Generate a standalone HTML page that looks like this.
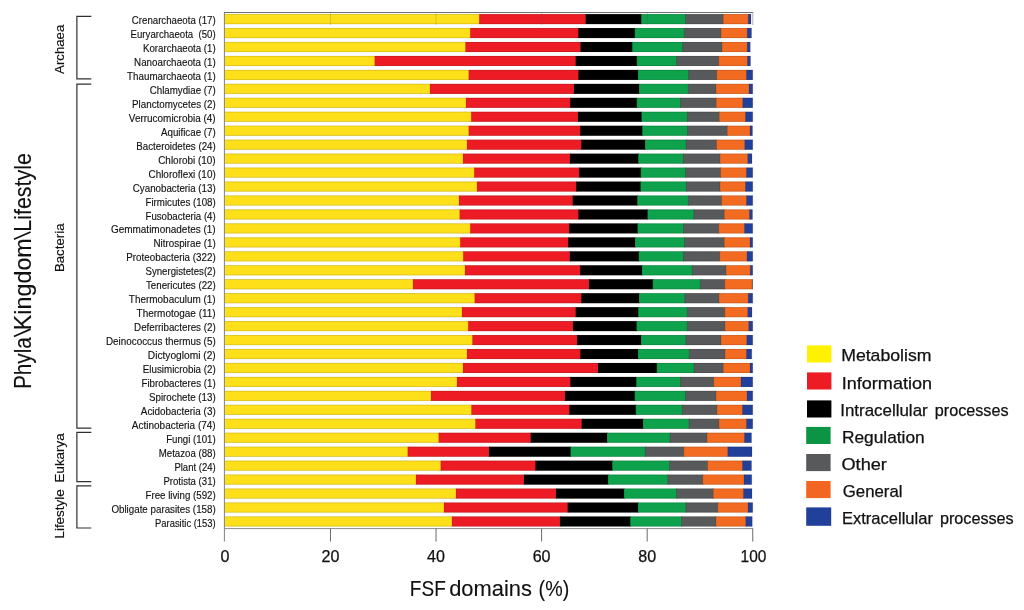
<!DOCTYPE html>
<html><head><meta charset="utf-8"><title>FSF domains</title>
<style>
html,body{margin:0;padding:0;background:#fff;}
body{width:1024px;height:610px;overflow:hidden;font-family:"Liberation Sans",sans-serif;}
svg{will-change:transform;display:block;position:absolute;left:0;top:0;}
text{font-family:"Liberation Sans",sans-serif;fill:#111;stroke:#111;stroke-width:0.25px;}
.rl{stroke-width:0.14px;}
.gl{stroke-width:0.15px;}
.big{stroke-width:0.12px;}
</style></head><body>
<svg width="1024" height="610" viewBox="0 0 1024 610">
<rect x="0" y="0" width="1024" height="610" fill="#ffffff"/>

<g>
<rect x="224.90" y="14.10" width="255.05" height="10.0" fill="#FEE01A"/>
<rect x="479.25" y="14.10" width="107.20" height="10.0" fill="#ED1C24"/>
<rect x="585.75" y="14.10" width="56.20" height="10.0" fill="#000000"/>
<rect x="641.25" y="14.10" width="44.95" height="10.0" fill="#0DA24B"/>
<rect x="685.50" y="14.10" width="38.45" height="10.0" fill="#58595B"/>
<rect x="723.25" y="14.10" width="25.70" height="10.0" fill="#F36B21"/>
<rect x="748.25" y="14.10" width="2.75" height="10.0" fill="#21409A"/>
<path d="M224.90 14.40H751.00M224.90 23.80H751.00M479.25 14.10v10.0M585.75 14.10v10.0M641.25 14.10v10.0M685.50 14.10v10.0M723.25 14.10v10.0M748.25 14.10v10.0M751.00 14.10v10.0" fill="none" stroke="#000" stroke-opacity="0.22" stroke-width="0.6"/>
<rect x="224.90" y="28.05" width="246.05" height="10.0" fill="#FEE01A"/>
<rect x="470.25" y="28.05" width="108.85" height="10.0" fill="#ED1C24"/>
<rect x="578.40" y="28.05" width="57.05" height="10.0" fill="#000000"/>
<rect x="634.75" y="28.05" width="50.20" height="10.0" fill="#0DA24B"/>
<rect x="684.25" y="28.05" width="37.45" height="10.0" fill="#58595B"/>
<rect x="721.00" y="28.05" width="26.95" height="10.0" fill="#F36B21"/>
<rect x="747.25" y="28.05" width="4.25" height="10.0" fill="#21409A"/>
<path d="M224.90 28.36H751.50M224.90 37.76H751.50M470.25 28.05v10.0M578.40 28.05v10.0M634.75 28.05v10.0M684.25 28.05v10.0M721.00 28.05v10.0M747.25 28.05v10.0M751.50 28.05v10.0" fill="none" stroke="#000" stroke-opacity="0.22" stroke-width="0.6"/>
<rect x="224.90" y="42.01" width="241.30" height="10.0" fill="#FEE01A"/>
<rect x="465.50" y="42.01" width="115.80" height="10.0" fill="#ED1C24"/>
<rect x="580.60" y="42.01" width="52.35" height="10.0" fill="#000000"/>
<rect x="632.25" y="42.01" width="50.95" height="10.0" fill="#0DA24B"/>
<rect x="682.50" y="42.01" width="40.20" height="10.0" fill="#58595B"/>
<rect x="722.00" y="42.01" width="25.95" height="10.0" fill="#F36B21"/>
<rect x="747.25" y="42.01" width="3.00" height="10.0" fill="#21409A"/>
<path d="M224.90 42.31H750.25M224.90 51.71H750.25M465.50 42.01v10.0M580.60 42.01v10.0M632.25 42.01v10.0M682.50 42.01v10.0M722.00 42.01v10.0M747.25 42.01v10.0M750.25 42.01v10.0" fill="none" stroke="#000" stroke-opacity="0.22" stroke-width="0.6"/>
<rect x="224.90" y="55.97" width="150.55" height="10.0" fill="#FEE01A"/>
<rect x="374.75" y="55.97" width="201.70" height="10.0" fill="#ED1C24"/>
<rect x="575.75" y="55.97" width="61.70" height="10.0" fill="#000000"/>
<rect x="636.75" y="55.97" width="40.45" height="10.0" fill="#0DA24B"/>
<rect x="676.50" y="55.97" width="42.95" height="10.0" fill="#58595B"/>
<rect x="718.75" y="55.97" width="29.45" height="10.0" fill="#F36B21"/>
<rect x="747.50" y="55.97" width="3.00" height="10.0" fill="#21409A"/>
<path d="M224.90 56.27H750.50M224.90 65.67H750.50M374.75 55.97v10.0M575.75 55.97v10.0M636.75 55.97v10.0M676.50 55.97v10.0M718.75 55.97v10.0M747.50 55.97v10.0M750.50 55.97v10.0" fill="none" stroke="#000" stroke-opacity="0.22" stroke-width="0.6"/>
<rect x="224.90" y="69.92" width="244.55" height="10.0" fill="#FEE01A"/>
<rect x="468.75" y="69.92" width="110.45" height="10.0" fill="#ED1C24"/>
<rect x="578.50" y="69.92" width="60.20" height="10.0" fill="#000000"/>
<rect x="638.00" y="69.92" width="51.20" height="10.0" fill="#0DA24B"/>
<rect x="688.50" y="69.92" width="28.95" height="10.0" fill="#58595B"/>
<rect x="716.75" y="69.92" width="30.45" height="10.0" fill="#F36B21"/>
<rect x="746.50" y="69.92" width="6.25" height="10.0" fill="#21409A"/>
<path d="M224.90 70.22H752.75M224.90 79.62H752.75M468.75 69.92v10.0M578.50 69.92v10.0M638.00 69.92v10.0M688.50 69.92v10.0M716.75 69.92v10.0M746.50 69.92v10.0M752.75 69.92v10.0" fill="none" stroke="#000" stroke-opacity="0.22" stroke-width="0.6"/>
<rect x="224.90" y="83.88" width="205.80" height="10.0" fill="#FEE01A"/>
<rect x="430.00" y="83.88" width="144.70" height="10.0" fill="#ED1C24"/>
<rect x="574.00" y="83.88" width="65.70" height="10.0" fill="#000000"/>
<rect x="639.00" y="83.88" width="49.95" height="10.0" fill="#0DA24B"/>
<rect x="688.25" y="83.88" width="28.45" height="10.0" fill="#58595B"/>
<rect x="716.00" y="83.88" width="33.70" height="10.0" fill="#F36B21"/>
<rect x="749.00" y="83.88" width="3.75" height="10.0" fill="#21409A"/>
<path d="M224.90 84.17H752.75M224.90 93.58H752.75M430.00 83.88v10.0M574.00 83.88v10.0M639.00 83.88v10.0M688.25 83.88v10.0M716.00 83.88v10.0M749.00 83.88v10.0M752.75 83.88v10.0" fill="none" stroke="#000" stroke-opacity="0.22" stroke-width="0.6"/>
<rect x="224.90" y="97.83" width="241.80" height="10.0" fill="#FEE01A"/>
<rect x="466.00" y="97.83" width="104.95" height="10.0" fill="#ED1C24"/>
<rect x="570.25" y="97.83" width="67.20" height="10.0" fill="#000000"/>
<rect x="636.75" y="97.83" width="44.45" height="10.0" fill="#0DA24B"/>
<rect x="680.50" y="97.83" width="36.45" height="10.0" fill="#58595B"/>
<rect x="716.25" y="97.83" width="27.20" height="10.0" fill="#F36B21"/>
<rect x="742.75" y="97.83" width="10.00" height="10.0" fill="#21409A"/>
<path d="M224.90 98.13H752.75M224.90 107.53H752.75M466.00 97.83v10.0M570.25 97.83v10.0M636.75 97.83v10.0M680.50 97.83v10.0M716.25 97.83v10.0M742.75 97.83v10.0M752.75 97.83v10.0" fill="none" stroke="#000" stroke-opacity="0.22" stroke-width="0.6"/>
<rect x="224.90" y="111.78" width="247.05" height="10.0" fill="#FEE01A"/>
<rect x="471.25" y="111.78" width="107.45" height="10.0" fill="#ED1C24"/>
<rect x="578.00" y="111.78" width="64.20" height="10.0" fill="#000000"/>
<rect x="641.50" y="111.78" width="46.45" height="10.0" fill="#0DA24B"/>
<rect x="687.25" y="111.78" width="32.70" height="10.0" fill="#58595B"/>
<rect x="719.25" y="111.78" width="26.95" height="10.0" fill="#F36B21"/>
<rect x="745.50" y="111.78" width="7.25" height="10.0" fill="#21409A"/>
<path d="M224.90 112.08H752.75M224.90 121.48H752.75M471.25 111.78v10.0M578.00 111.78v10.0M641.50 111.78v10.0M687.25 111.78v10.0M719.25 111.78v10.0M745.50 111.78v10.0M752.75 111.78v10.0" fill="none" stroke="#000" stroke-opacity="0.22" stroke-width="0.6"/>
<rect x="224.90" y="125.74" width="244.55" height="10.0" fill="#FEE01A"/>
<rect x="468.75" y="125.74" width="112.20" height="10.0" fill="#ED1C24"/>
<rect x="580.25" y="125.74" width="62.70" height="10.0" fill="#000000"/>
<rect x="642.25" y="125.74" width="45.95" height="10.0" fill="#0DA24B"/>
<rect x="687.50" y="125.74" width="40.45" height="10.0" fill="#58595B"/>
<rect x="727.25" y="125.74" width="23.45" height="10.0" fill="#F36B21"/>
<rect x="750.00" y="125.74" width="2.50" height="10.0" fill="#21409A"/>
<path d="M224.90 126.04H752.50M224.90 135.44H752.50M468.75 125.74v10.0M580.25 125.74v10.0M642.25 125.74v10.0M687.50 125.74v10.0M727.25 125.74v10.0M750.00 125.74v10.0M752.50 125.74v10.0" fill="none" stroke="#000" stroke-opacity="0.22" stroke-width="0.6"/>
<rect x="224.90" y="139.69" width="242.80" height="10.0" fill="#FEE01A"/>
<rect x="467.00" y="139.69" width="115.10" height="10.0" fill="#ED1C24"/>
<rect x="581.40" y="139.69" width="64.30" height="10.0" fill="#000000"/>
<rect x="645.00" y="139.69" width="41.70" height="10.0" fill="#0DA24B"/>
<rect x="686.00" y="139.69" width="31.20" height="10.0" fill="#58595B"/>
<rect x="716.50" y="139.69" width="28.95" height="10.0" fill="#F36B21"/>
<rect x="744.75" y="139.69" width="8.00" height="10.0" fill="#21409A"/>
<path d="M224.90 140.00H752.75M224.90 149.39H752.75M467.00 139.69v10.0M581.40 139.69v10.0M645.00 139.69v10.0M686.00 139.69v10.0M716.50 139.69v10.0M744.75 139.69v10.0M752.75 139.69v10.0" fill="none" stroke="#000" stroke-opacity="0.22" stroke-width="0.6"/>
<rect x="224.90" y="153.65" width="238.80" height="10.0" fill="#FEE01A"/>
<rect x="463.00" y="153.65" width="107.70" height="10.0" fill="#ED1C24"/>
<rect x="570.00" y="153.65" width="68.95" height="10.0" fill="#000000"/>
<rect x="638.25" y="153.65" width="45.70" height="10.0" fill="#0DA24B"/>
<rect x="683.25" y="153.65" width="37.45" height="10.0" fill="#58595B"/>
<rect x="720.00" y="153.65" width="28.45" height="10.0" fill="#F36B21"/>
<rect x="747.75" y="153.65" width="4.25" height="10.0" fill="#21409A"/>
<path d="M224.90 153.95H752.00M224.90 163.35H752.00M463.00 153.65v10.0M570.00 153.65v10.0M638.25 153.65v10.0M683.25 153.65v10.0M720.00 153.65v10.0M747.75 153.65v10.0M752.00 153.65v10.0" fill="none" stroke="#000" stroke-opacity="0.22" stroke-width="0.6"/>
<rect x="224.90" y="167.60" width="250.05" height="10.0" fill="#FEE01A"/>
<rect x="474.25" y="167.60" width="105.70" height="10.0" fill="#ED1C24"/>
<rect x="579.25" y="167.60" width="62.20" height="10.0" fill="#000000"/>
<rect x="640.75" y="167.60" width="45.45" height="10.0" fill="#0DA24B"/>
<rect x="685.50" y="167.60" width="35.70" height="10.0" fill="#58595B"/>
<rect x="720.50" y="167.60" width="26.70" height="10.0" fill="#F36B21"/>
<rect x="746.50" y="167.60" width="6.25" height="10.0" fill="#21409A"/>
<path d="M224.90 167.91H752.75M224.90 177.30H752.75M474.25 167.60v10.0M579.25 167.60v10.0M640.75 167.60v10.0M685.50 167.60v10.0M720.50 167.60v10.0M746.50 167.60v10.0M752.75 167.60v10.0" fill="none" stroke="#000" stroke-opacity="0.22" stroke-width="0.6"/>
<rect x="224.90" y="181.56" width="252.80" height="10.0" fill="#FEE01A"/>
<rect x="477.00" y="181.56" width="99.95" height="10.0" fill="#ED1C24"/>
<rect x="576.25" y="181.56" width="64.95" height="10.0" fill="#000000"/>
<rect x="640.50" y="181.56" width="46.45" height="10.0" fill="#0DA24B"/>
<rect x="686.25" y="181.56" width="34.45" height="10.0" fill="#58595B"/>
<rect x="720.00" y="181.56" width="26.20" height="10.0" fill="#F36B21"/>
<rect x="745.50" y="181.56" width="7.25" height="10.0" fill="#21409A"/>
<path d="M224.90 181.86H752.75M224.90 191.26H752.75M477.00 181.56v10.0M576.25 181.56v10.0M640.50 181.56v10.0M686.25 181.56v10.0M720.00 181.56v10.0M745.50 181.56v10.0M752.75 181.56v10.0" fill="none" stroke="#000" stroke-opacity="0.22" stroke-width="0.6"/>
<rect x="224.90" y="195.51" width="234.80" height="10.0" fill="#FEE01A"/>
<rect x="459.00" y="195.51" width="114.45" height="10.0" fill="#ED1C24"/>
<rect x="572.75" y="195.51" width="65.20" height="10.0" fill="#000000"/>
<rect x="637.25" y="195.51" width="51.70" height="10.0" fill="#0DA24B"/>
<rect x="688.25" y="195.51" width="33.95" height="10.0" fill="#58595B"/>
<rect x="721.50" y="195.51" width="25.70" height="10.0" fill="#F36B21"/>
<rect x="746.50" y="195.51" width="6.25" height="10.0" fill="#21409A"/>
<path d="M224.90 195.81H752.75M224.90 205.21H752.75M459.00 195.51v10.0M572.75 195.51v10.0M637.25 195.51v10.0M688.25 195.51v10.0M721.50 195.51v10.0M746.50 195.51v10.0M752.75 195.51v10.0" fill="none" stroke="#000" stroke-opacity="0.22" stroke-width="0.6"/>
<rect x="224.90" y="209.47" width="235.55" height="10.0" fill="#FEE01A"/>
<rect x="459.75" y="209.47" width="119.45" height="10.0" fill="#ED1C24"/>
<rect x="578.50" y="209.47" width="69.70" height="10.0" fill="#000000"/>
<rect x="647.50" y="209.47" width="46.95" height="10.0" fill="#0DA24B"/>
<rect x="693.75" y="209.47" width="31.20" height="10.0" fill="#58595B"/>
<rect x="724.25" y="209.47" width="25.95" height="10.0" fill="#F36B21"/>
<rect x="749.50" y="209.47" width="3.00" height="10.0" fill="#21409A"/>
<path d="M224.90 209.77H752.50M224.90 219.17H752.50M459.75 209.47v10.0M578.50 209.47v10.0M647.50 209.47v10.0M693.75 209.47v10.0M724.25 209.47v10.0M749.50 209.47v10.0M752.50 209.47v10.0" fill="none" stroke="#000" stroke-opacity="0.22" stroke-width="0.6"/>
<rect x="224.90" y="223.42" width="246.05" height="10.0" fill="#FEE01A"/>
<rect x="470.25" y="223.42" width="99.70" height="10.0" fill="#ED1C24"/>
<rect x="569.25" y="223.42" width="68.95" height="10.0" fill="#000000"/>
<rect x="637.50" y="223.42" width="46.70" height="10.0" fill="#0DA24B"/>
<rect x="683.50" y="223.42" width="35.95" height="10.0" fill="#58595B"/>
<rect x="718.75" y="223.42" width="26.45" height="10.0" fill="#F36B21"/>
<rect x="744.50" y="223.42" width="8.25" height="10.0" fill="#21409A"/>
<path d="M224.90 223.72H752.75M224.90 233.12H752.75M470.25 223.42v10.0M569.25 223.42v10.0M637.50 223.42v10.0M683.50 223.42v10.0M718.75 223.42v10.0M744.50 223.42v10.0M752.75 223.42v10.0" fill="none" stroke="#000" stroke-opacity="0.22" stroke-width="0.6"/>
<rect x="224.90" y="237.38" width="236.05" height="10.0" fill="#FEE01A"/>
<rect x="460.25" y="237.38" width="108.70" height="10.0" fill="#ED1C24"/>
<rect x="568.25" y="237.38" width="67.45" height="10.0" fill="#000000"/>
<rect x="635.00" y="237.38" width="50.20" height="10.0" fill="#0DA24B"/>
<rect x="684.50" y="237.38" width="40.45" height="10.0" fill="#58595B"/>
<rect x="724.25" y="237.38" width="26.45" height="10.0" fill="#F36B21"/>
<rect x="750.00" y="237.38" width="2.75" height="10.0" fill="#21409A"/>
<path d="M224.90 237.68H752.75M224.90 247.08H752.75M460.25 237.38v10.0M568.25 237.38v10.0M635.00 237.38v10.0M684.50 237.38v10.0M724.25 237.38v10.0M750.00 237.38v10.0M752.75 237.38v10.0" fill="none" stroke="#000" stroke-opacity="0.22" stroke-width="0.6"/>
<rect x="224.90" y="251.34" width="239.05" height="10.0" fill="#FEE01A"/>
<rect x="463.25" y="251.34" width="107.35" height="10.0" fill="#ED1C24"/>
<rect x="569.90" y="251.34" width="69.55" height="10.0" fill="#000000"/>
<rect x="638.75" y="251.34" width="45.45" height="10.0" fill="#0DA24B"/>
<rect x="683.50" y="251.34" width="36.95" height="10.0" fill="#58595B"/>
<rect x="719.75" y="251.34" width="27.95" height="10.0" fill="#F36B21"/>
<rect x="747.00" y="251.34" width="5.75" height="10.0" fill="#21409A"/>
<path d="M224.90 251.64H752.75M224.90 261.04H752.75M463.25 251.34v10.0M569.90 251.34v10.0M638.75 251.34v10.0M683.50 251.34v10.0M719.75 251.34v10.0M747.00 251.34v10.0M752.75 251.34v10.0" fill="none" stroke="#000" stroke-opacity="0.22" stroke-width="0.6"/>
<rect x="224.90" y="265.29" width="240.80" height="10.0" fill="#FEE01A"/>
<rect x="465.00" y="265.29" width="115.95" height="10.0" fill="#ED1C24"/>
<rect x="580.25" y="265.29" width="62.45" height="10.0" fill="#000000"/>
<rect x="642.00" y="265.29" width="50.95" height="10.0" fill="#0DA24B"/>
<rect x="692.25" y="265.29" width="34.45" height="10.0" fill="#58595B"/>
<rect x="726.00" y="265.29" width="24.95" height="10.0" fill="#F36B21"/>
<rect x="750.25" y="265.29" width="2.50" height="10.0" fill="#21409A"/>
<path d="M224.90 265.59H752.75M224.90 274.99H752.75M465.00 265.29v10.0M580.25 265.29v10.0M642.00 265.29v10.0M692.25 265.29v10.0M726.00 265.29v10.0M750.25 265.29v10.0M752.75 265.29v10.0" fill="none" stroke="#000" stroke-opacity="0.22" stroke-width="0.6"/>
<rect x="224.90" y="279.25" width="188.80" height="10.0" fill="#FEE01A"/>
<rect x="413.00" y="279.25" width="176.70" height="10.0" fill="#ED1C24"/>
<rect x="589.00" y="279.25" width="64.45" height="10.0" fill="#000000"/>
<rect x="652.75" y="279.25" width="48.20" height="10.0" fill="#0DA24B"/>
<rect x="700.25" y="279.25" width="25.20" height="10.0" fill="#58595B"/>
<rect x="724.75" y="279.25" width="27.75" height="10.0" fill="#F36B21"/>
<rect x="752.00" y="279.25" width="0.50" height="10.0" fill="#21409A"/>
<path d="M224.90 279.55H752.50M224.90 288.94H752.50M413.00 279.25v10.0M589.00 279.25v10.0M652.75 279.25v10.0M700.25 279.25v10.0M724.75 279.25v10.0M752.00 279.25v10.0M752.50 279.25v10.0" fill="none" stroke="#000" stroke-opacity="0.22" stroke-width="0.6"/>
<rect x="224.90" y="293.20" width="250.55" height="10.0" fill="#FEE01A"/>
<rect x="474.75" y="293.20" width="107.35" height="10.0" fill="#ED1C24"/>
<rect x="581.40" y="293.20" width="58.30" height="10.0" fill="#000000"/>
<rect x="639.00" y="293.20" width="46.45" height="10.0" fill="#0DA24B"/>
<rect x="684.75" y="293.20" width="34.95" height="10.0" fill="#58595B"/>
<rect x="719.00" y="293.20" width="29.95" height="10.0" fill="#F36B21"/>
<rect x="748.25" y="293.20" width="4.50" height="10.0" fill="#21409A"/>
<path d="M224.90 293.50H752.75M224.90 302.90H752.75M474.75 293.20v10.0M581.40 293.20v10.0M639.00 293.20v10.0M684.75 293.20v10.0M719.00 293.20v10.0M748.25 293.20v10.0M752.75 293.20v10.0" fill="none" stroke="#000" stroke-opacity="0.22" stroke-width="0.6"/>
<rect x="224.90" y="307.16" width="237.80" height="10.0" fill="#FEE01A"/>
<rect x="462.00" y="307.16" width="114.45" height="10.0" fill="#ED1C24"/>
<rect x="575.75" y="307.16" width="63.20" height="10.0" fill="#000000"/>
<rect x="638.25" y="307.16" width="49.70" height="10.0" fill="#0DA24B"/>
<rect x="687.25" y="307.16" width="38.20" height="10.0" fill="#58595B"/>
<rect x="724.75" y="307.16" width="23.70" height="10.0" fill="#F36B21"/>
<rect x="747.75" y="307.16" width="4.25" height="10.0" fill="#21409A"/>
<path d="M224.90 307.46H752.00M224.90 316.86H752.00M462.00 307.16v10.0M575.75 307.16v10.0M638.25 307.16v10.0M687.25 307.16v10.0M724.75 307.16v10.0M747.75 307.16v10.0M752.00 307.16v10.0" fill="none" stroke="#000" stroke-opacity="0.22" stroke-width="0.6"/>
<rect x="224.90" y="321.11" width="244.05" height="10.0" fill="#FEE01A"/>
<rect x="468.25" y="321.11" width="105.55" height="10.0" fill="#ED1C24"/>
<rect x="573.10" y="321.11" width="64.10" height="10.0" fill="#000000"/>
<rect x="636.50" y="321.11" width="51.45" height="10.0" fill="#0DA24B"/>
<rect x="687.25" y="321.11" width="38.45" height="10.0" fill="#58595B"/>
<rect x="725.00" y="321.11" width="24.45" height="10.0" fill="#F36B21"/>
<rect x="748.75" y="321.11" width="4.00" height="10.0" fill="#21409A"/>
<path d="M224.90 321.41H752.75M224.90 330.81H752.75M468.25 321.11v10.0M573.10 321.11v10.0M636.50 321.11v10.0M687.25 321.11v10.0M725.00 321.11v10.0M748.75 321.11v10.0M752.75 321.11v10.0" fill="none" stroke="#000" stroke-opacity="0.22" stroke-width="0.6"/>
<rect x="224.90" y="335.06" width="248.30" height="10.0" fill="#FEE01A"/>
<rect x="472.50" y="335.06" width="105.30" height="10.0" fill="#ED1C24"/>
<rect x="577.10" y="335.06" width="64.60" height="10.0" fill="#000000"/>
<rect x="641.00" y="335.06" width="45.45" height="10.0" fill="#0DA24B"/>
<rect x="685.75" y="335.06" width="35.95" height="10.0" fill="#58595B"/>
<rect x="721.00" y="335.06" width="26.45" height="10.0" fill="#F36B21"/>
<rect x="746.75" y="335.06" width="6.00" height="10.0" fill="#21409A"/>
<path d="M224.90 335.37H752.75M224.90 344.76H752.75M472.50 335.06v10.0M577.10 335.06v10.0M641.00 335.06v10.0M685.75 335.06v10.0M721.00 335.06v10.0M746.75 335.06v10.0M752.75 335.06v10.0" fill="none" stroke="#000" stroke-opacity="0.22" stroke-width="0.6"/>
<rect x="224.90" y="349.02" width="242.80" height="10.0" fill="#FEE01A"/>
<rect x="467.00" y="349.02" width="114.10" height="10.0" fill="#ED1C24"/>
<rect x="580.40" y="349.02" width="58.30" height="10.0" fill="#000000"/>
<rect x="638.00" y="349.02" width="51.95" height="10.0" fill="#0DA24B"/>
<rect x="689.25" y="349.02" width="36.45" height="10.0" fill="#58595B"/>
<rect x="725.00" y="349.02" width="22.20" height="10.0" fill="#F36B21"/>
<rect x="746.50" y="349.02" width="5.25" height="10.0" fill="#21409A"/>
<path d="M224.90 349.32H751.75M224.90 358.72H751.75M467.00 349.02v10.0M580.40 349.02v10.0M638.00 349.02v10.0M689.25 349.02v10.0M725.00 349.02v10.0M746.50 349.02v10.0M751.75 349.02v10.0" fill="none" stroke="#000" stroke-opacity="0.22" stroke-width="0.6"/>
<rect x="224.90" y="362.98" width="238.80" height="10.0" fill="#FEE01A"/>
<rect x="463.00" y="362.98" width="135.70" height="10.0" fill="#ED1C24"/>
<rect x="598.00" y="362.98" width="59.45" height="10.0" fill="#000000"/>
<rect x="656.75" y="362.98" width="37.95" height="10.0" fill="#0DA24B"/>
<rect x="694.00" y="362.98" width="29.95" height="10.0" fill="#58595B"/>
<rect x="723.25" y="362.98" width="27.45" height="10.0" fill="#F36B21"/>
<rect x="750.00" y="362.98" width="2.75" height="10.0" fill="#21409A"/>
<path d="M224.90 363.28H752.75M224.90 372.68H752.75M463.00 362.98v10.0M598.00 362.98v10.0M656.75 362.98v10.0M694.00 362.98v10.0M723.25 362.98v10.0M750.00 362.98v10.0M752.75 362.98v10.0" fill="none" stroke="#000" stroke-opacity="0.22" stroke-width="0.6"/>
<rect x="224.90" y="376.93" width="232.80" height="10.0" fill="#FEE01A"/>
<rect x="457.00" y="376.93" width="114.10" height="10.0" fill="#ED1C24"/>
<rect x="570.40" y="376.93" width="66.55" height="10.0" fill="#000000"/>
<rect x="636.25" y="376.93" width="44.95" height="10.0" fill="#0DA24B"/>
<rect x="680.50" y="376.93" width="33.95" height="10.0" fill="#58595B"/>
<rect x="713.75" y="376.93" width="27.95" height="10.0" fill="#F36B21"/>
<rect x="741.00" y="376.93" width="11.75" height="10.0" fill="#21409A"/>
<path d="M224.90 377.23H752.75M224.90 386.63H752.75M457.00 376.93v10.0M570.40 376.93v10.0M636.25 376.93v10.0M680.50 376.93v10.0M713.75 376.93v10.0M741.00 376.93v10.0M752.75 376.93v10.0" fill="none" stroke="#000" stroke-opacity="0.22" stroke-width="0.6"/>
<rect x="224.90" y="390.89" width="206.80" height="10.0" fill="#FEE01A"/>
<rect x="431.00" y="390.89" width="134.70" height="10.0" fill="#ED1C24"/>
<rect x="565.00" y="390.89" width="70.45" height="10.0" fill="#000000"/>
<rect x="634.75" y="390.89" width="51.45" height="10.0" fill="#0DA24B"/>
<rect x="685.50" y="390.89" width="31.20" height="10.0" fill="#58595B"/>
<rect x="716.00" y="390.89" width="31.70" height="10.0" fill="#F36B21"/>
<rect x="747.00" y="390.89" width="5.75" height="10.0" fill="#21409A"/>
<path d="M224.90 391.19H752.75M224.90 400.59H752.75M431.00 390.89v10.0M565.00 390.89v10.0M634.75 390.89v10.0M685.50 390.89v10.0M716.00 390.89v10.0M747.00 390.89v10.0M752.75 390.89v10.0" fill="none" stroke="#000" stroke-opacity="0.22" stroke-width="0.6"/>
<rect x="224.90" y="404.84" width="247.30" height="10.0" fill="#FEE01A"/>
<rect x="471.50" y="404.84" width="98.70" height="10.0" fill="#ED1C24"/>
<rect x="569.50" y="404.84" width="66.95" height="10.0" fill="#000000"/>
<rect x="635.75" y="404.84" width="47.20" height="10.0" fill="#0DA24B"/>
<rect x="682.25" y="404.84" width="35.45" height="10.0" fill="#58595B"/>
<rect x="717.00" y="404.84" width="26.20" height="10.0" fill="#F36B21"/>
<rect x="742.50" y="404.84" width="10.25" height="10.0" fill="#21409A"/>
<path d="M224.90 405.14H752.75M224.90 414.54H752.75M471.50 404.84v10.0M569.50 404.84v10.0M635.75 404.84v10.0M682.25 404.84v10.0M717.00 404.84v10.0M742.50 404.84v10.0M752.75 404.84v10.0" fill="none" stroke="#000" stroke-opacity="0.22" stroke-width="0.6"/>
<rect x="224.90" y="418.80" width="251.30" height="10.0" fill="#FEE01A"/>
<rect x="475.50" y="418.80" width="106.95" height="10.0" fill="#ED1C24"/>
<rect x="581.75" y="418.80" width="61.95" height="10.0" fill="#000000"/>
<rect x="643.00" y="418.80" width="46.70" height="10.0" fill="#0DA24B"/>
<rect x="689.00" y="418.80" width="30.70" height="10.0" fill="#58595B"/>
<rect x="719.00" y="418.80" width="28.20" height="10.0" fill="#F36B21"/>
<rect x="746.50" y="418.80" width="6.25" height="10.0" fill="#21409A"/>
<path d="M224.90 419.10H752.75M224.90 428.50H752.75M475.50 418.80v10.0M581.75 418.80v10.0M643.00 418.80v10.0M689.00 418.80v10.0M719.00 418.80v10.0M746.50 418.80v10.0M752.75 418.80v10.0" fill="none" stroke="#000" stroke-opacity="0.22" stroke-width="0.6"/>
<rect x="224.90" y="432.75" width="214.55" height="10.0" fill="#FEE01A"/>
<rect x="438.75" y="432.75" width="92.70" height="10.0" fill="#ED1C24"/>
<rect x="530.75" y="432.75" width="76.95" height="10.0" fill="#000000"/>
<rect x="607.00" y="432.75" width="63.70" height="10.0" fill="#0DA24B"/>
<rect x="670.00" y="432.75" width="37.70" height="10.0" fill="#58595B"/>
<rect x="707.00" y="432.75" width="38.20" height="10.0" fill="#F36B21"/>
<rect x="744.50" y="432.75" width="7.00" height="10.0" fill="#21409A"/>
<path d="M224.90 433.05H751.50M224.90 442.45H751.50M438.75 432.75v10.0M530.75 432.75v10.0M607.00 432.75v10.0M670.00 432.75v10.0M707.00 432.75v10.0M744.50 432.75v10.0M751.50 432.75v10.0" fill="none" stroke="#000" stroke-opacity="0.22" stroke-width="0.6"/>
<rect x="224.90" y="446.71" width="183.55" height="10.0" fill="#FEE01A"/>
<rect x="407.75" y="446.71" width="81.95" height="10.0" fill="#ED1C24"/>
<rect x="489.00" y="446.71" width="82.20" height="10.0" fill="#000000"/>
<rect x="570.50" y="446.71" width="75.45" height="10.0" fill="#0DA24B"/>
<rect x="645.25" y="446.71" width="39.20" height="10.0" fill="#58595B"/>
<rect x="683.75" y="446.71" width="44.70" height="10.0" fill="#F36B21"/>
<rect x="727.75" y="446.71" width="24.25" height="10.0" fill="#21409A"/>
<path d="M224.90 447.01H752.00M224.90 456.41H752.00M407.75 446.71v10.0M489.00 446.71v10.0M570.50 446.71v10.0M645.25 446.71v10.0M683.75 446.71v10.0M727.75 446.71v10.0M752.00 446.71v10.0" fill="none" stroke="#000" stroke-opacity="0.22" stroke-width="0.6"/>
<rect x="224.90" y="460.66" width="216.55" height="10.0" fill="#FEE01A"/>
<rect x="440.75" y="460.66" width="95.45" height="10.0" fill="#ED1C24"/>
<rect x="535.50" y="460.66" width="77.45" height="10.0" fill="#000000"/>
<rect x="612.25" y="460.66" width="57.95" height="10.0" fill="#0DA24B"/>
<rect x="669.50" y="460.66" width="38.70" height="10.0" fill="#58595B"/>
<rect x="707.50" y="460.66" width="35.70" height="10.0" fill="#F36B21"/>
<rect x="742.50" y="460.66" width="9.00" height="10.0" fill="#21409A"/>
<path d="M224.90 460.96H751.50M224.90 470.36H751.50M440.75 460.66v10.0M535.50 460.66v10.0M612.25 460.66v10.0M669.50 460.66v10.0M707.50 460.66v10.0M742.50 460.66v10.0M751.50 460.66v10.0" fill="none" stroke="#000" stroke-opacity="0.22" stroke-width="0.6"/>
<rect x="224.90" y="474.62" width="191.80" height="10.0" fill="#FEE01A"/>
<rect x="416.00" y="474.62" width="108.70" height="10.0" fill="#ED1C24"/>
<rect x="524.00" y="474.62" width="84.70" height="10.0" fill="#000000"/>
<rect x="608.00" y="474.62" width="60.45" height="10.0" fill="#0DA24B"/>
<rect x="667.75" y="474.62" width="35.70" height="10.0" fill="#58595B"/>
<rect x="702.75" y="474.62" width="41.95" height="10.0" fill="#F36B21"/>
<rect x="744.00" y="474.62" width="7.75" height="10.0" fill="#21409A"/>
<path d="M224.90 474.92H751.75M224.90 484.31H751.75M416.00 474.62v10.0M524.00 474.62v10.0M608.00 474.62v10.0M667.75 474.62v10.0M702.75 474.62v10.0M744.00 474.62v10.0M751.75 474.62v10.0" fill="none" stroke="#000" stroke-opacity="0.22" stroke-width="0.6"/>
<rect x="224.90" y="488.57" width="231.80" height="10.0" fill="#FEE01A"/>
<rect x="456.00" y="488.57" width="100.70" height="10.0" fill="#ED1C24"/>
<rect x="556.00" y="488.57" width="68.70" height="10.0" fill="#000000"/>
<rect x="624.00" y="488.57" width="53.20" height="10.0" fill="#0DA24B"/>
<rect x="676.50" y="488.57" width="37.45" height="10.0" fill="#58595B"/>
<rect x="713.25" y="488.57" width="30.95" height="10.0" fill="#F36B21"/>
<rect x="743.50" y="488.57" width="8.50" height="10.0" fill="#21409A"/>
<path d="M224.90 488.87H752.00M224.90 498.27H752.00M456.00 488.57v10.0M556.00 488.57v10.0M624.00 488.57v10.0M676.50 488.57v10.0M713.25 488.57v10.0M743.50 488.57v10.0M752.00 488.57v10.0" fill="none" stroke="#000" stroke-opacity="0.22" stroke-width="0.6"/>
<rect x="224.90" y="502.53" width="219.80" height="10.0" fill="#FEE01A"/>
<rect x="444.00" y="502.53" width="124.45" height="10.0" fill="#ED1C24"/>
<rect x="567.75" y="502.53" width="70.95" height="10.0" fill="#000000"/>
<rect x="638.00" y="502.53" width="48.45" height="10.0" fill="#0DA24B"/>
<rect x="685.75" y="502.53" width="32.70" height="10.0" fill="#58595B"/>
<rect x="717.75" y="502.53" width="30.95" height="10.0" fill="#F36B21"/>
<rect x="748.00" y="502.53" width="4.75" height="10.0" fill="#21409A"/>
<path d="M224.90 502.83H752.75M224.90 512.23H752.75M444.00 502.53v10.0M567.75 502.53v10.0M638.00 502.53v10.0M685.75 502.53v10.0M717.75 502.53v10.0M748.00 502.53v10.0M752.75 502.53v10.0" fill="none" stroke="#000" stroke-opacity="0.22" stroke-width="0.6"/>
<rect x="224.90" y="516.48" width="227.80" height="10.0" fill="#FEE01A"/>
<rect x="452.00" y="516.48" width="108.70" height="10.0" fill="#ED1C24"/>
<rect x="560.00" y="516.48" width="70.95" height="10.0" fill="#000000"/>
<rect x="630.25" y="516.48" width="51.95" height="10.0" fill="#0DA24B"/>
<rect x="681.50" y="516.48" width="35.20" height="10.0" fill="#58595B"/>
<rect x="716.00" y="516.48" width="30.45" height="10.0" fill="#F36B21"/>
<rect x="745.75" y="516.48" width="6.50" height="10.0" fill="#21409A"/>
<path d="M224.90 516.78H752.25M224.90 526.18H752.25M452.00 516.48v10.0M560.00 516.48v10.0M630.25 516.48v10.0M681.50 516.48v10.0M716.00 516.48v10.0M745.75 516.48v10.0M752.25 516.48v10.0" fill="none" stroke="#000" stroke-opacity="0.22" stroke-width="0.6"/>
</g>
<g stroke="#6a6a6a" stroke-width="1" fill="none">
<line x1="224" y1="12.5" x2="753" y2="12.5" stroke="#707070"/>
<line x1="224.4" y1="12" x2="224.4" y2="541.5" stroke="#707070" stroke-width="0.9"/>
<line x1="224" y1="528.6" x2="753" y2="528.6" stroke="#8a8a8a"/>
<line x1="752.8" y1="12" x2="752.8" y2="25" stroke="#9a9a9a" stroke-width="0.8"/>
<line x1="330.47" y1="528.6" x2="330.47" y2="541.5"/>
<line x1="436.04" y1="528.6" x2="436.04" y2="541.5"/>
<line x1="541.61" y1="528.6" x2="541.61" y2="541.5"/>
<line x1="647.18" y1="528.6" x2="647.18" y2="541.5"/>
<line x1="752.75" y1="528.6" x2="752.75" y2="541.5"/>
<line x1="330.47" y1="12.5" x2="330.47" y2="25" stroke="#555" stroke-opacity="0.45" stroke-width="0.5"/>
<line x1="436.04" y1="12.5" x2="436.04" y2="25" stroke="#555" stroke-opacity="0.45" stroke-width="0.5"/>
<line x1="541.61" y1="12.5" x2="541.61" y2="25" stroke="#555" stroke-opacity="0.45" stroke-width="0.5"/>
<line x1="647.18" y1="12.5" x2="647.18" y2="25" stroke="#555" stroke-opacity="0.45" stroke-width="0.5"/>
</g>
<text x="224.90" y="561.8" font-size="16.1" text-anchor="middle">0</text>
<text x="330.47" y="561.8" font-size="16.1" text-anchor="middle">20</text>
<text x="436.04" y="561.8" font-size="16.1" text-anchor="middle">40</text>
<text x="541.61" y="561.8" font-size="16.1" text-anchor="middle">60</text>
<text x="647.18" y="561.8" font-size="16.1" text-anchor="middle">80</text>
<text x="740.6" y="561.8" font-size="16.1" textLength="25.8" lengthAdjust="spacingAndGlyphs">100</text>
<text id="xtitle" x="409.8" textLength="36.0" y="595.5" font-size="22.3" lengthAdjust="spacingAndGlyphs" class="big">FSF</text>
<text x="449.2" textLength="82.7" y="595.5" font-size="22.3" lengthAdjust="spacingAndGlyphs" class="big">domains</text>
<text x="538.6" textLength="30.6" y="595.5" font-size="22.3" lengthAdjust="spacingAndGlyphs" class="big">(%)</text>
<text class="rl" x="131.8" y="24.15" font-size="10.5" textLength="83.9" lengthAdjust="spacingAndGlyphs" xml:space="preserve">Crenarchaeota (17)</text>
<text class="rl" x="130.6" y="38.10" font-size="10.5" textLength="85.1" lengthAdjust="spacingAndGlyphs" xml:space="preserve">Euryarchaeota  (50)</text>
<text class="rl" x="143.0" y="52.06" font-size="10.5" textLength="72.7" lengthAdjust="spacingAndGlyphs" xml:space="preserve">Korarchaeota (1)</text>
<text class="rl" x="134.1" y="66.02" font-size="10.5" textLength="81.6" lengthAdjust="spacingAndGlyphs" xml:space="preserve">Nanoarchaeota (1)</text>
<text class="rl" x="127.1" y="79.97" font-size="10.5" textLength="88.6" lengthAdjust="spacingAndGlyphs" xml:space="preserve">Thaumarchaeota (1)</text>
<text class="rl" x="149.7" y="93.93" font-size="10.5" textLength="66.0" lengthAdjust="spacingAndGlyphs" xml:space="preserve">Chlamydiae (7)</text>
<text class="rl" x="132.1" y="107.88" font-size="10.5" textLength="83.6" lengthAdjust="spacingAndGlyphs" xml:space="preserve">Planctomycetes (2)</text>
<text class="rl" x="128.8" y="121.84" font-size="10.5" textLength="86.9" lengthAdjust="spacingAndGlyphs" xml:space="preserve">Verrucomicrobia (4)</text>
<text class="rl" x="161.0" y="135.79" font-size="10.5" textLength="54.7" lengthAdjust="spacingAndGlyphs" xml:space="preserve">Aquificae (7)</text>
<text class="rl" x="136.3" y="149.75" font-size="10.5" textLength="79.4" lengthAdjust="spacingAndGlyphs" xml:space="preserve">Bacteroidetes (24)</text>
<text class="rl" x="158.2" y="163.70" font-size="10.5" textLength="57.5" lengthAdjust="spacingAndGlyphs" xml:space="preserve">Chlorobi (10)</text>
<text class="rl" x="148.5" y="177.66" font-size="10.5" textLength="67.2" lengthAdjust="spacingAndGlyphs" xml:space="preserve">Chloroflexi (10)</text>
<text class="rl" x="132.8" y="191.61" font-size="10.5" textLength="82.9" lengthAdjust="spacingAndGlyphs" xml:space="preserve">Cyanobacteria (13)</text>
<text class="rl" x="145.5" y="205.56" font-size="10.5" textLength="70.2" lengthAdjust="spacingAndGlyphs" xml:space="preserve">Firmicutes (108)</text>
<text class="rl" x="145.5" y="219.52" font-size="10.5" textLength="70.2" lengthAdjust="spacingAndGlyphs" xml:space="preserve">Fusobacteria (4)</text>
<text class="rl" x="110.9" y="233.47" font-size="10.5" textLength="104.8" lengthAdjust="spacingAndGlyphs" xml:space="preserve">Gemmatimonadetes (1)</text>
<text class="rl" x="153.5" y="247.43" font-size="10.5" textLength="62.2" lengthAdjust="spacingAndGlyphs" xml:space="preserve">Nitrospirae (1)</text>
<text class="rl" x="126.3" y="261.38" font-size="10.5" textLength="89.4" lengthAdjust="spacingAndGlyphs" xml:space="preserve">Proteobacteria (322)</text>
<text class="rl" x="145.5" y="275.34" font-size="10.5" textLength="70.2" lengthAdjust="spacingAndGlyphs" xml:space="preserve">Synergistetes(2)</text>
<text class="rl" x="146.0" y="289.29" font-size="10.5" textLength="69.7" lengthAdjust="spacingAndGlyphs" xml:space="preserve">Tenericutes (22)</text>
<text class="rl" x="128.8" y="303.25" font-size="10.5" textLength="86.9" lengthAdjust="spacingAndGlyphs" xml:space="preserve">Thermobaculum (1)</text>
<text class="rl" x="136.6" y="317.20" font-size="10.5" textLength="79.1" lengthAdjust="spacingAndGlyphs" xml:space="preserve">Thermotogae (11)</text>
<text class="rl" x="134.1" y="331.16" font-size="10.5" textLength="81.6" lengthAdjust="spacingAndGlyphs" xml:space="preserve">Deferribacteres (2)</text>
<text class="rl" x="105.9" y="345.11" font-size="10.5" textLength="109.8" lengthAdjust="spacingAndGlyphs" xml:space="preserve">Deinococcus thermus (5)</text>
<text class="rl" x="147.8" y="359.07" font-size="10.5" textLength="67.9" lengthAdjust="spacingAndGlyphs" xml:space="preserve">Dictyoglomi (2)</text>
<text class="rl" x="142.8" y="373.02" font-size="10.5" textLength="72.9" lengthAdjust="spacingAndGlyphs" xml:space="preserve">Elusimicrobia (2)</text>
<text class="rl" x="141.5" y="386.98" font-size="10.5" textLength="74.2" lengthAdjust="spacingAndGlyphs" xml:space="preserve">Fibrobacteres (1)</text>
<text class="rl" x="149.0" y="400.94" font-size="10.5" textLength="66.7" lengthAdjust="spacingAndGlyphs" xml:space="preserve">Spirochete (13)</text>
<text class="rl" x="140.8" y="414.89" font-size="10.5" textLength="74.9" lengthAdjust="spacingAndGlyphs" xml:space="preserve">Acidobacteria (3)</text>
<text class="rl" x="131.8" y="428.84" font-size="10.5" textLength="83.9" lengthAdjust="spacingAndGlyphs" xml:space="preserve">Actinobacteria (74)</text>
<text class="rl" x="166.2" y="442.80" font-size="10.5" textLength="49.5" lengthAdjust="spacingAndGlyphs" xml:space="preserve">Fungi (101)</text>
<text class="rl" x="158.7" y="456.75" font-size="10.5" textLength="57.0" lengthAdjust="spacingAndGlyphs" xml:space="preserve">Metazoa (88)</text>
<text class="rl" x="174.4" y="470.71" font-size="10.5" textLength="41.3" lengthAdjust="spacingAndGlyphs" xml:space="preserve">Plant (24)</text>
<text class="rl" x="163.4" y="484.66" font-size="10.5" textLength="52.3" lengthAdjust="spacingAndGlyphs" xml:space="preserve">Protista (31)</text>
<text class="rl" x="145.5" y="498.62" font-size="10.5" textLength="70.2" lengthAdjust="spacingAndGlyphs" xml:space="preserve">Free living (592)</text>
<text class="rl" x="111.4" y="512.58" font-size="10.5" textLength="104.3" lengthAdjust="spacingAndGlyphs" xml:space="preserve">Obligate parasites (158)</text>
<text class="rl" x="155.0" y="526.53" font-size="10.5" textLength="60.7" lengthAdjust="spacingAndGlyphs" xml:space="preserve">Parasitic (153)</text>
<path d="M91.3 16.3 H76.9 V78.9 H91.3" fill="none" stroke="#303030" stroke-width="1.2" stroke-linejoin="miter"/>
<path d="M91.3 84.2 H76.9 V428.2 H91.3" fill="none" stroke="#303030" stroke-width="1.2" stroke-linejoin="miter"/>
<path d="M91.3 432.4 H76.9 V481.7 H91.3" fill="none" stroke="#303030" stroke-width="1.2" stroke-linejoin="miter"/>
<path d="M91.3 485.9 H76.9 V528.0 H91.3" fill="none" stroke="#303030" stroke-width="1.2" stroke-linejoin="miter"/>
<text id="g1" class="gl" transform="translate(64.4 73.9) rotate(-90)" font-size="13.3" textLength="49.2" lengthAdjust="spacingAndGlyphs">Archaea</text>
<text id="g2" class="gl" transform="translate(64.4 272.1) rotate(-90)" font-size="13.3" textLength="48.6" lengthAdjust="spacingAndGlyphs">Bacteria</text>
<text id="g3" class="gl" transform="translate(64.1 482.4) rotate(-90)" font-size="13.3" textLength="49.0" lengthAdjust="spacingAndGlyphs">Eukarya</text>
<text id="g4" class="gl" transform="translate(64.4 538.6) rotate(-90)" font-size="13.3" textLength="49.4" lengthAdjust="spacingAndGlyphs">Lifestyle</text>
<text id="ytitle" class="big" transform="translate(30.7 389.0) rotate(-90)" font-size="23.2" textLength="51.9" lengthAdjust="spacingAndGlyphs">Phyla</text>
<path d="M13.9 336.5L30.6 329.1M13.9 239.3L30.6 232.0" stroke="#111" stroke-width="1.7" fill="none"/>
<text class="big" transform="translate(30.7 330.2) rotate(-90)" font-size="23.2" textLength="92.0" lengthAdjust="spacingAndGlyphs">Kingdom</text>
<text class="big" transform="translate(30.7 231.7) rotate(-90)" font-size="23.2" textLength="78.5" lengthAdjust="spacingAndGlyphs">Lifestyle</text>
<rect x="807.0" y="345.4" width="24.4" height="17.1" fill="#FFF200"/>
<text class="lg" x="841.2" y="361.3" font-size="15.7" textLength="90.3" lengthAdjust="spacingAndGlyphs">Metabolism</text>
<rect x="807.0" y="372.4" width="24.4" height="17.1" fill="#ED1C24"/>
<text class="lg" x="841.8" y="388.7" font-size="15.7" textLength="90.2" lengthAdjust="spacingAndGlyphs">Information</text>
<rect x="807.0" y="400.4" width="24.4" height="17.1" fill="#000000"/>
<text class="lg" x="840.2" y="415.7" font-size="15.7" textLength="87.5" lengthAdjust="spacingAndGlyphs">Intracellular</text>
<text class="lg" x="934.8" y="415.7" font-size="15.7" textLength="73.7" lengthAdjust="spacingAndGlyphs">processes</text>
<rect x="806.2" y="426.9" width="24.4" height="17.1" fill="#0B9444"/>
<text class="lg" x="841.9" y="443.1" font-size="15.7" textLength="82.8" lengthAdjust="spacingAndGlyphs">Regulation</text>
<rect x="806.2" y="454.0" width="24.4" height="17.1" fill="#58595B"/>
<text class="lg" x="841.5" y="469.8" font-size="15.7" textLength="45.4" lengthAdjust="spacingAndGlyphs">Other</text>
<rect x="806.2" y="481.0" width="24.4" height="17.1" fill="#F26522"/>
<text class="lg" x="842.8" y="496.9" font-size="15.7" textLength="59.7" lengthAdjust="spacingAndGlyphs">General</text>
<rect x="806.2" y="507.4" width="25.0" height="18.4" fill="#21409A"/>
<text class="lg" x="842.0" y="523.7" font-size="15.7" textLength="90.9" lengthAdjust="spacingAndGlyphs">Extracellular</text>
<text class="lg" x="939.9" y="523.7" font-size="15.7" textLength="73.8" lengthAdjust="spacingAndGlyphs">processes</text>
</svg></body></html>
